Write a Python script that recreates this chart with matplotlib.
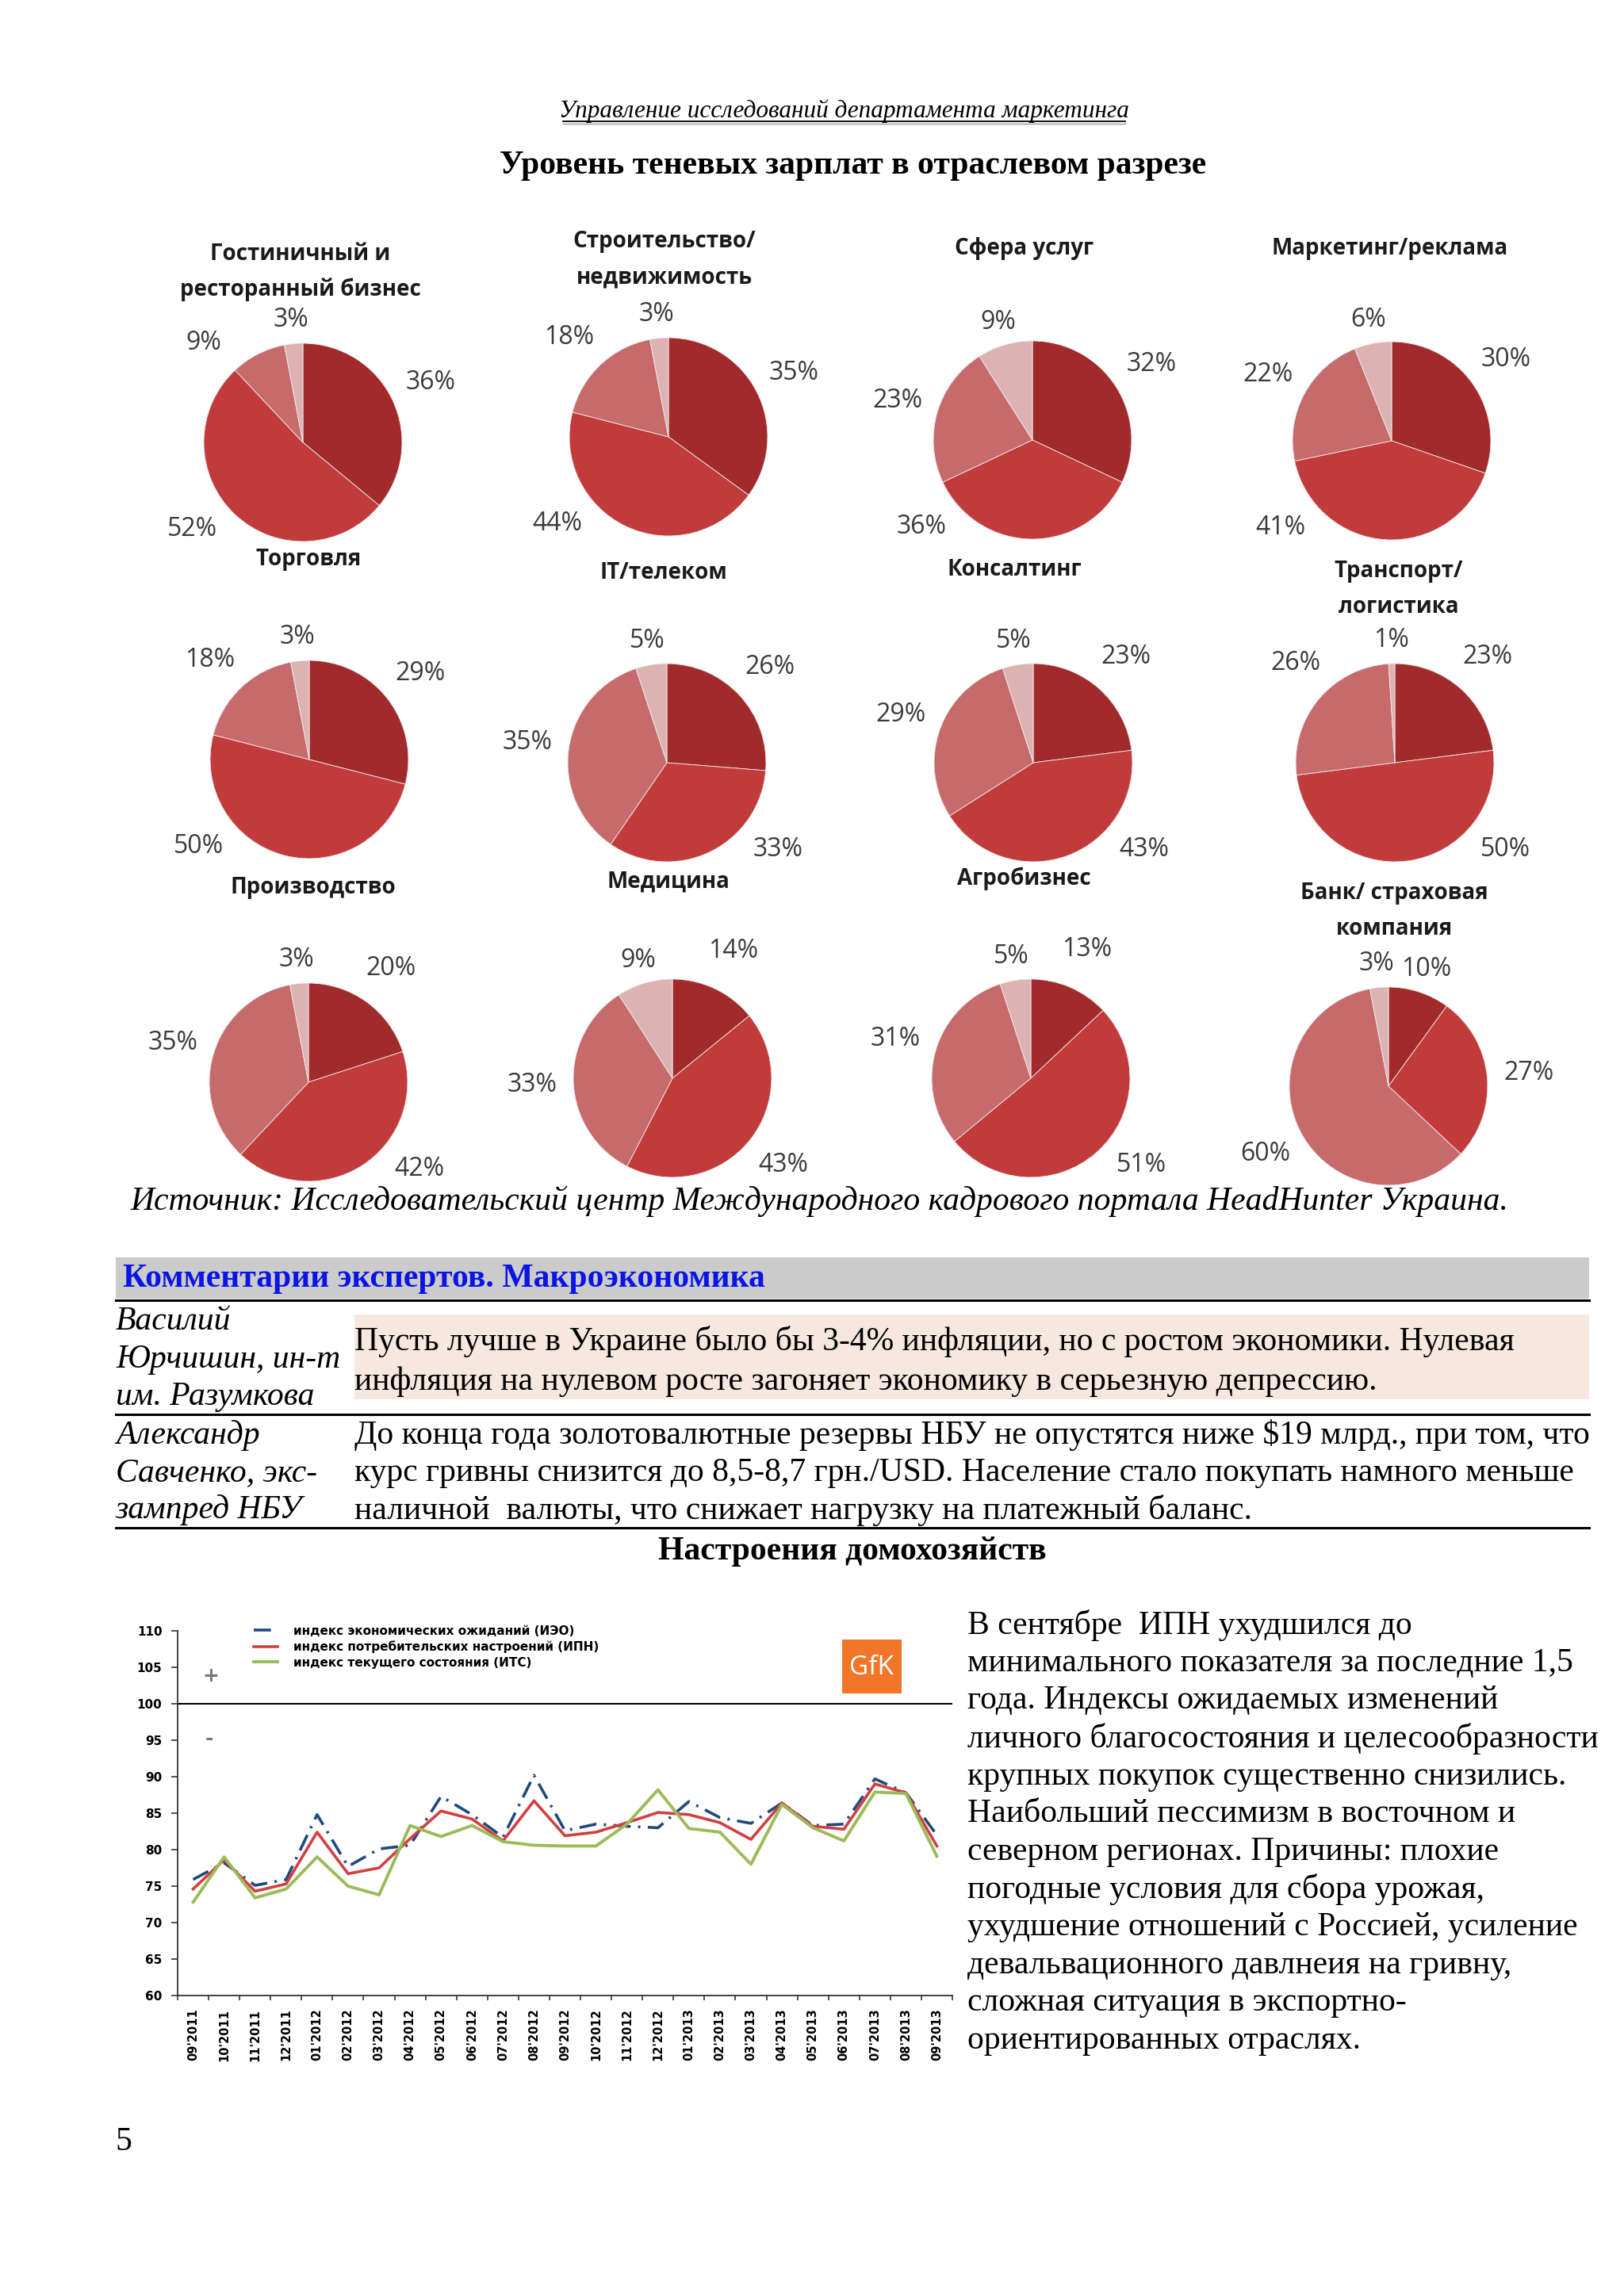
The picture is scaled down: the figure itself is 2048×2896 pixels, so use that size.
import matplotlib.pyplot as plt
import matplotlib.patches as mpatches
from matplotlib.lines import Line2D
import numpy as np

W, H = 2048, 2896

# ---- data: shadow salary share by industry ----
pie_titles = ["Гостиничный и\nресторанный бизнес", "Строительство/\nнедвижимость",
              "Сфера услуг", "Маркетинг/реклама",
              "Торговля", "IT/телеком", "Консалтинг", "Транспорт/\nлогистика",
              "Производство", "Медицина", "Агробизнес", "Банк/ страховая\nкомпания"]
pie_values = [[36, 52, 9, 3], [35, 44, 18, 3], [32, 36, 23, 9], [30, 41, 22, 6],
              [29, 50, 18, 3], [26, 33, 35, 5], [23, 43, 29, 5], [23, 50, 26, 1],
              [20, 42, 35, 3], [14, 43, 33, 9], [13, 51, 31, 5], [10, 27, 60, 3]]
pie_colors = ["#A12A2B", "#C13B3C", "#C66A6B", "#DDB2B2"]

# ---- data: household sentiment (GfK) ----
months = ["09'2011", "10'2011", "11'2011", "12'2011", "01'2012", "02'2012", "03'2012",
          "04'2012", "05'2012", "06'2012", "07'2012", "08'2012", "09'2012", "10'2012",
          "11'2012", "12'2012", "01'2013", "02'2013", "03'2013", "04'2013", "05'2013",
          "06'2013", "07'2013", "08'2013", "09'2013"]
ieo = [75.9, 78.2, 75.1, 75.9, 84.8, 77.7, 80.1, 80.6, 87.3, 84.8, 81.7, 90.2, 82.6,
       83.5, 83.2, 83.0, 86.6, 84.4, 83.6, 86.4, 83.3, 83.5, 89.7, 87.8, 82.0]
ipn = [74.6, 78.6, 74.3, 75.3, 82.4, 76.7, 77.5, 81.5, 85.3, 84.2, 81.2, 86.7, 81.9,
       82.4, 83.7, 85.1, 84.8, 83.7, 81.4, 86.4, 83.2, 82.8, 89.0, 87.8, 80.5]
its = [72.8, 79.0, 73.4, 74.6, 79.0, 75.0, 73.8, 83.3, 81.8, 83.3, 81.1, 80.6, 80.5,
       80.5, 83.5, 88.2, 82.9, 82.4, 78.0, 86.2, 83.0, 81.2, 87.9, 87.7, 79.1]
series_names = ["индекс экономических ожиданий (ИЭО)",
                "индекс потребительских настроений (ИПН)",
                "индекс текущего состояния (ИТС)"]

comment_names = [["Василий", "Юрчишин, ин-т", "им. Разумкова"],
                 ["Александр", "Савченко, экс-", "зампред НБУ"]]
comment_texts = [["Пусть лучше в Украине было бы 3-4% инфляции, но с ростом экономики. Нулевая",
                  "инфляция на нулевом росте загоняет экономику в серьезную депрессию."],
                 ["До конца года золотовалютные резервы НБУ не опустятся ниже $19 млрд., при том, что",
                  "курс гривны снизится до 8,5-8,7 грн./USD. Население стало покупать намного меньше",
                  "наличной  валюты, что снижает нагрузку на платежный баланс."]]
side_text = ["В сентябре  ИПН ухудшился до",
             "минимального показателя за последние 1,5",
             "года. Индексы ожидаемых изменений",
             "личного благосостояния и целесообразности",
             "крупных покупок существенно снизились.",
             "Наибольший пессимизм в восточном и",
             "северном регионах. Причины: плохие",
             "погодные условия для сбора урожая,",
             "ухудшение отношений с Россией, усиление",
             "девальвационного давлнеия на гривну,",
             "сложная ситуация в экспортно-",
             "ориентированных отраслях."]

SERIF = "Liberation Serif"
SANS = "Open Sans"

fig = plt.figure(figsize=(W / 100, H / 100), dpi=100)


def fx(px):
    return px / W


def fy(py):
    return 1 - py / H


def ftext(x, y, s, **kw):
    return fig.text(fx(x), fy(y), s, **kw)


def hline(x0, x1, y, **kw):
    fig.add_artist(Line2D([fx(x0), fx(x1)], [fy(y), fy(y)], transform=fig.transFigure, **kw))


# header
ftext(1064, 140, "Управление исследований департамента маркетинга", family=SERIF,
      style="italic", fontsize=22.5, ha="center", va="center")
hline(710, 1419, 153, color="black", lw=1.3)
hline(710, 1419, 156, color="#999999", lw=1.0)
ftext(1076, 209, "Уровень теневых зарплат в отраслевом разрезе", family=SERIF,
      weight="bold", fontsize=30, ha="center", va="center")

# ---- pies ----
R = 125
pie_centers = [(382, 558), (843, 551), (1302, 555), (1755, 556),
               (390, 958), (841, 962), (1303, 962), (1759, 962),
               (389, 1365), (848, 1360), (1300, 1360), (1751, 1370)]
title_pos = [(379, 343), (838, 327), (1292, 313), (1753, 313),
             (389, 706), (837, 723), (1279, 718), (1764, 743),
             (395, 1120), (843, 1112), (1291, 1108), (1758, 1149)]
span = 1.75
for vals, title, (cx, cy), (tx, ty) in zip(pie_values, pie_titles, pie_centers, title_pos):
    half = span * R
    ax = fig.add_axes([fx(cx - half), fy(cy + half), 2 * half / W, 2 * half / H])
    wedges, _ = ax.pie(vals, colors=pie_colors, startangle=90, counterclock=False,
                       radius=1, wedgeprops=dict(edgecolor="#f4eaea", linewidth=0.6))
    ax.set_xlim(-span, span)
    ax.set_ylim(-span, span)
    ax.axis("off")
    for w, v in zip(wedges, vals):
        ang = np.deg2rad((w.theta1 + w.theta2) / 2)
        s = np.sin(ang)
        c = np.cos(ang)
        # keep labels off the bottom of the pie (best-fit style)
        if s < -0.62:
            ang = np.deg2rad(-38 if c >= 0 else -142)
        elif 0.6 < s < 0.95 and c < 0:
            ang = np.deg2rad(135)
        dist = 1.24 if s > 0.95 else 1.42
        ax.text(dist * np.cos(ang), dist * np.sin(ang), f"{v}%", family=SANS,
                fontsize=23, color="#3a3a3a", ha="center", va="center")
    lines = title.split("\n")
    for i, ln in enumerate(lines):
        ftext(tx, ty + (i - (len(lines) - 1) / 2) * 45, ln, family=SANS, weight="bold",
              fontsize=20, ha="center", va="center", color="#1a1a1a")

ftext(164, 1515, "Источник: Исследовательский центр Международного кадрового портала HeadHunter Украина.",
      family=SERIF, style="italic", fontsize=30, ha="left", va="center")

# ---- comments table ----
fig.add_artist(mpatches.Rectangle((fx(146), fy(1638)), fx(2004) - fx(146), (1638 - 1586) / H,
                                  transform=fig.transFigure, facecolor="#CBCBCB", edgecolor="none"))
ftext(155, 1613, "Комментарии экспертов. Макроэкономика", family=SERIF, weight="bold",
      fontsize=30, color="#0A14E6", ha="left", va="center")
hline(146, 2004, 1640, color="black", lw=2.2)
fig.add_artist(mpatches.Rectangle((fx(447), fy(1765)), fx(2004) - fx(447), (1765 - 1658) / H,
                                  transform=fig.transFigure, facecolor="#F6E7DF", edgecolor="none"))
name_rows = [[1667, 1715, 1762], [1810, 1858, 1905]]
text_rows = [[1692, 1743], [1810, 1858, 1905]]
for names, texts, ny, ty in zip(comment_names, comment_texts, name_rows, text_rows):
    for n, y in zip(names, ny):
        ftext(146, y, n, family=SERIF, style="italic", fontsize=30, ha="left", va="center")
    for t, y in zip(texts, ty):
        ftext(447, y, t, family=SERIF, fontsize=30, ha="left", va="center")
hline(146, 2004, 1784, color="black", lw=2.2)
hline(146, 2004, 1927, color="black", lw=2.2)

ftext(1075, 1957, "Настроения домохозяйств", family=SERIF, weight="bold", fontsize=30,
      ha="center", va="center")

# ---- line chart ----
x0, x1, ytop, ybot = 224, 1201, 2057, 2517
lax = fig.add_axes([fx(x0), fy(ybot), (x1 - x0) / W, (ybot - ytop) / H])
xpos = np.arange(len(months)) + 0.5
lax.plot(xpos, ieo, color="#1F497D", lw=2.6, ls=(0, (6, 2.6, 0.8, 2.6)), label=series_names[0])
lax.plot(xpos, ipn, color="#D23F40", lw=2.6, label=series_names[1])
lax.plot(xpos, its, color="#9BBB59", lw=2.8, label=series_names[2])
lax.axhline(100, color="black", lw=1.5)
lax.set_xlim(0, len(months))
lax.set_ylim(60, 110)
lax.set_yticks(np.arange(60, 111, 5))
lax.set_xticks(np.arange(0, len(months) + 1))
lax.set_xticklabels([])
lax.set_xticks(xpos, minor=True)
lax.set_xticklabels(months, minor=True, rotation=90, fontsize=10.5, weight="bold",
                    family="DejaVu Sans")
lax.tick_params(axis="x", which="minor", length=0, pad=12)
lax.tick_params(axis="x", which="major", length=4, width=1.2, color="#333333")
lax.tick_params(axis="y", length=6, width=1.2, color="#333333", pad=8)
for lab in lax.get_yticklabels():
    lab.set_fontsize(11)
    lab.set_fontweight("bold")
    lab.set_family("DejaVu Sans")
for sp in ["top", "right"]:
    lax.spines[sp].set_visible(False)
for sp in ["left", "bottom"]:
    lax.spines[sp].set_color("#333333")
    lax.spines[sp].set_linewidth(1.3)
lax.patch.set_alpha(0)
lax.legend(loc="upper left", bbox_to_anchor=(fx(312), fy(2042)), bbox_transform=fig.transFigure,
           frameon=False, handlelength=2.0, labelspacing=0.3, borderpad=0, handletextpad=1.3,
           prop=dict(family="DejaVu Sans", weight="bold", size=11))
ftext(266, 2114, "+", color="#777777", fontsize=18, weight="bold", ha="center", va="center",
      family="DejaVu Sans")
ftext(264, 2193, "-", color="#777777", fontsize=18, weight="bold", ha="center", va="center",
      family="DejaVu Sans")

# GfK logo
fig.add_artist(mpatches.Rectangle((fx(1062), fy(2136)), fx(1137) - fx(1062), (2136 - 2068) / H,
                                  transform=fig.transFigure, facecolor="#F2762A", edgecolor="none"))
ftext(1099, 2103, "GfK", color="white", fontsize=24, family=SANS, ha="center", va="center")

# side paragraph
for i, ln in enumerate(side_text):
    ftext(1220, 2050 + i * 47.6, ln, family=SERIF, fontsize=30, ha="left", va="center")

ftext(156, 2702, "5", family=SERIF, fontsize=30, ha="center", va="center")

fig.savefig("out.png", dpi=100, facecolor="white")
